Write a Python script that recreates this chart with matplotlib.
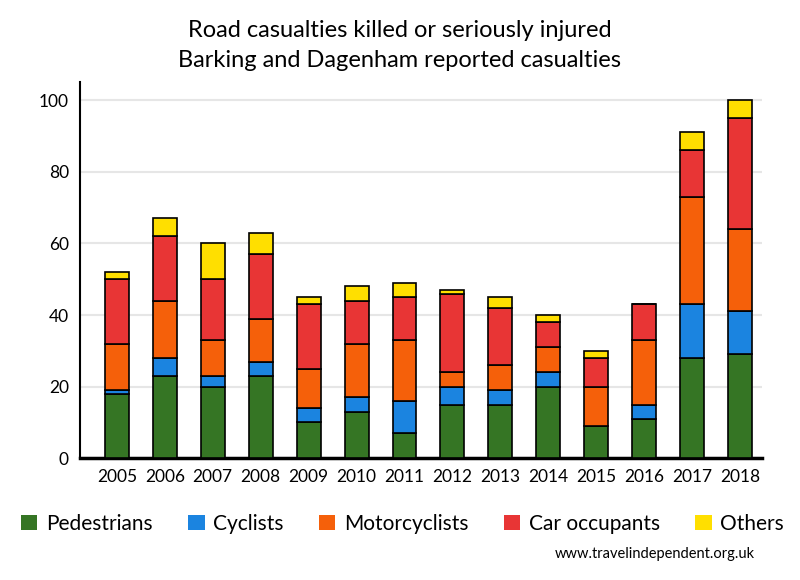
import numpy as np
import matplotlib.pyplot as plt

years = ['2005', '2006', '2007', '2008', '2009', '2010', '2011',
         '2012', '2013', '2014', '2015', '2016', '2017', '2018']
pedestrians = [18, 23, 20, 23, 10, 13, 7, 15, 15, 20, 9, 11, 28, 29]
cyclists = [1, 5, 3, 4, 4, 4, 9, 5, 4, 4, 0, 4, 15, 12]
motorcyclists = [13, 16, 10, 12, 11, 15, 17, 4, 7, 7, 11, 18, 30, 23]
car_occupants = [18, 18, 17, 18, 18, 12, 12, 22, 16, 7, 8, 10, 13, 31]
others = [2, 5, 10, 6, 2, 4, 4, 1, 3, 2, 2, 0, 5, 5]

series = [('Pedestrians', pedestrians, '#357524'),
          ('Cyclists', cyclists, '#1b84e0'),
          ('Motorcyclists', motorcyclists, '#f5600a'),
          ('Car occupants', car_occupants, '#e83535'),
          ('Others', others, '#ffdf00')]

plt.rcParams['font.family'] = ['Lato', 'DejaVu Sans']

fig = plt.figure(figsize=(8, 5.8), dpi=100)
ax = fig.add_axes([0.1, 0.21, 0.852, 0.648])

x = np.arange(len(years))
bottom = np.zeros(len(years))
handles = []
for name, vals, color in series:
    vals = np.array(vals)
    b = ax.bar(x, vals, 0.5, bottom=bottom, color=color, edgecolor='black',
               linewidth=1.2, label=name, zorder=3)
    handles.append(b)
    bottom += vals

ax.set_xlim(-0.77, 13.45)
ax.set_ylim(0, 105)
ax.set_yticks([0, 20, 40, 60, 80, 100])
ax.set_xticks(x)
ax.set_xticklabels(years)
ax.yaxis.grid(True, color='#e6e6e6', linewidth=1.5, zorder=0)
ax.tick_params(axis='both', labelsize=12.5, length=0, pad=8)
for s in ['top', 'right']:
    ax.spines[s].set_visible(False)
ax.spines['left'].set_linewidth(1.5)
ax.spines['bottom'].set_linewidth(2.5)

fig.text(0.5, 0.947, 'Road casualties killed or seriously injured',
         ha='center', va='center', fontsize=17)
fig.text(0.5, 0.895, 'Barking and Dagenham reported casualties',
         ha='center', va='center', fontsize=17)

leg = fig.legend(handles=handles, loc='center', bbox_to_anchor=(0.503, 0.097),
                 ncol=5, frameon=False, fontsize=15, handlelength=0.8,
                 handleheight=0.8, columnspacing=1.7, handletextpad=0.4)
for h in leg.legend_handles:
    h.set_edgecolor('none')

fig.text(0.943, 0.045, 'www.travelindependent.org.uk', ha='right',
         va='center', fontsize=10.5)

fig.savefig('out.png', dpi=100)
